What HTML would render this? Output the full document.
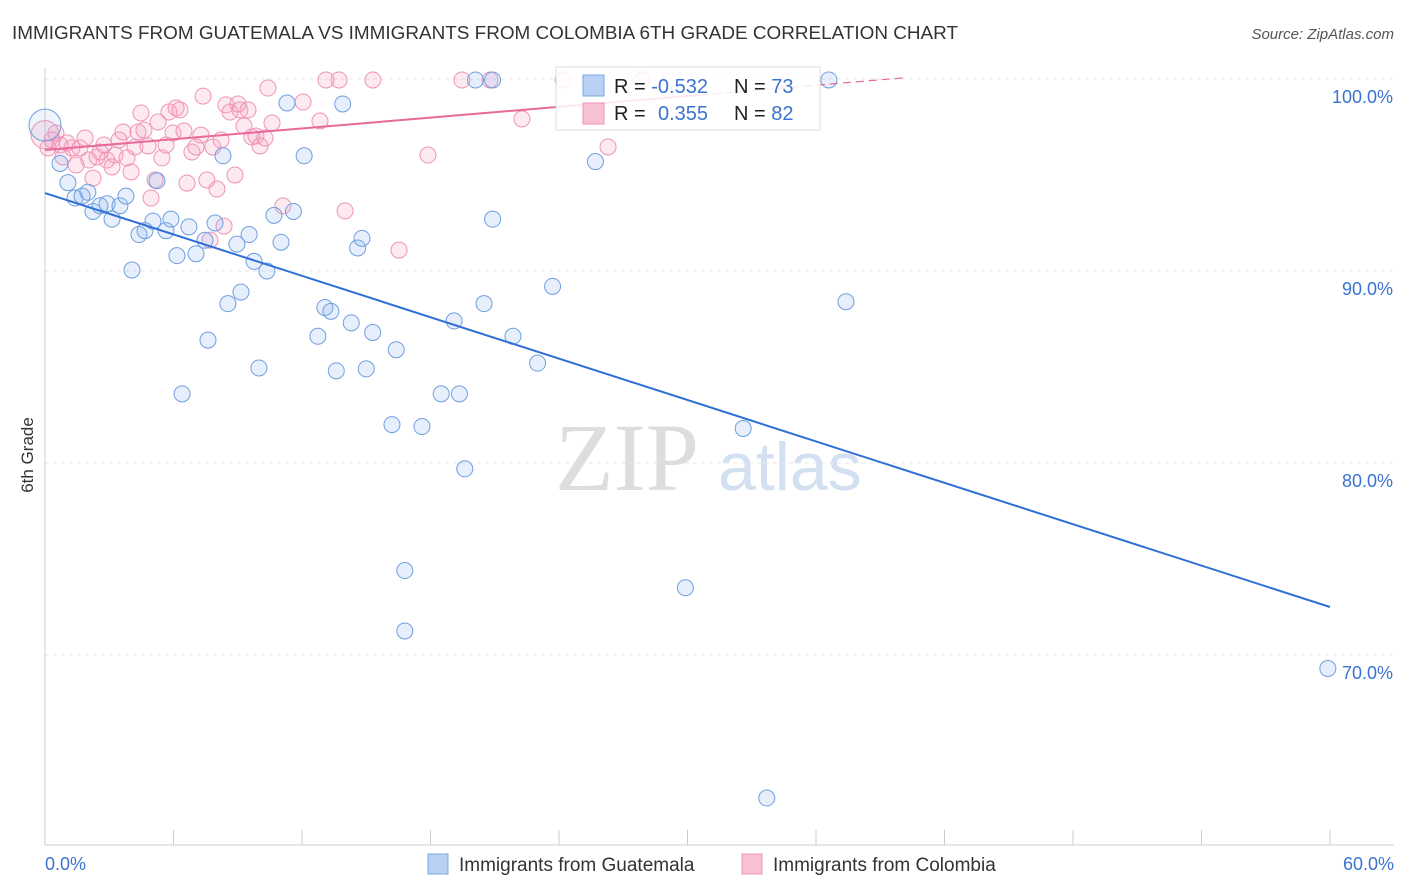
<!DOCTYPE html>
<html><head><meta charset="utf-8">
<style>
body{margin:0;background:#fff;font-family:"Liberation Sans",sans-serif;}
#wrap{position:relative;width:1406px;height:892px;overflow:hidden;}
</style></head>
<body>
<div id="wrap">
<svg id="chart" width="1406" height="892">
<text x="12" y="39" font-size="18" fill="#333" textLength="946" lengthAdjust="spacingAndGlyphs">IMMIGRANTS FROM GUATEMALA VS IMMIGRANTS FROM COLOMBIA 6TH GRADE CORRELATION CHART</text>
<text x="1394" y="39" font-size="15" fill="#555" font-style="italic" text-anchor="end">Source: ZipAtlas.com</text>
<text x="33" y="455" font-size="17" fill="#333" transform="rotate(-90 33 455)" text-anchor="middle">6th Grade</text>
<text x="555" y="490" font-size="96" fill="#ddd" font-family="Liberation Serif,serif">ZIP</text>
<text x="718" y="490" font-size="68" fill="#d3e0f2">atlas</text>
<g id="grid"></g><g id="marks"></g><g id="lines"></g>
<g>
<rect x="556" y="67" width="264" height="63" fill="rgba(255,255,255,0.85)" stroke="#ddd"/>
<rect x="583" y="75" width="21" height="21" fill="#b7d0f3" stroke="#7aa7e4"/>
<rect x="583" y="103" width="21" height="21" fill="#f9c2d4" stroke="#f093b4"/>
<text x="614" y="93" font-size="20" fill="#222">R = <tspan fill="#3b73d0">-0.532</tspan></text>
<text x="734" y="93" font-size="20" fill="#222">N = <tspan fill="#3b73d0">73</tspan></text>
<text x="614" y="120" font-size="20" fill="#222">R = <tspan fill="#3b73d0" x="658">0.355</tspan></text>
<text x="734" y="120" font-size="20" fill="#222">N = <tspan fill="#3b73d0">82</tspan></text>
</g>
<g>
<rect x="428" y="854" width="20" height="20" fill="#b7d0f3" stroke="#7aa7e4"/>
<text x="459" y="871" font-size="19" fill="#333">Immigrants from Guatemala</text>
<rect x="742" y="854" width="20" height="20" fill="#f9c2d4" stroke="#f093b4"/>
<text x="773" y="871" font-size="19" fill="#333">Immigrants from Colombia</text>
</g>
</svg>
</div>
<script>
const yTicks=[100,90,80,70];
const yTickLabels=["100.0%","90.0%","80.0%","70.0%"];
const xEndLabels=["0.0%","60.0%"];
const blueX=[0,0.7,1.07,1.4,1.73,2.0,2.24,2.57,2.9,3.13,3.5,3.78,4.06,4.39,4.67,5.04,5.23,5.65,5.88,6.16,6.4,6.72,7.05,7.47,7.61,7.94,8.31,8.54,8.96,9.15,9.53,9.76,9.99,10.36,10.69,11.02,11.3,11.6,12.1,12.74,13.07,13.35,13.6,13.9,14.3,14.6,14.8,15.0,15.3,16.2,16.4,16.8,16.8,17.6,18.5,19.1,19.35,19.6,20.1,20.5,20.9,20.9,21.85,23.0,23.7,25.7,29.9,32.6,33.7,36.6,37.4,59.9];
const blueY=[97.6,95.6,94.6,93.8,93.9,94.1,93.1,93.4,93.5,92.7,93.4,93.9,90.05,91.9,92.1,92.6,94.7,92.1,92.7,90.8,83.6,92.3,90.9,91.6,86.4,92.5,96.0,88.3,91.4,88.9,91.9,90.5,84.95,90.0,92.9,91.5,98.75,93.1,96.0,86.6,88.1,87.9,84.8,98.7,87.3,91.2,91.7,84.9,86.8,82.0,85.9,74.4,71.25,81.9,83.6,87.4,83.6,79.7,99.95,88.3,99.95,92.7,86.6,85.2,89.2,95.7,73.5,81.8,62.55,99.95,88.4,69.3];
const pinkX=[0,0.14,0.33,0.51,0.70,0.84,1.03,1.26,1.45,1.63,1.87,2.05,2.24,2.43,2.57,2.75,2.89,3.13,3.27,3.46,3.64,3.83,4.02,4.20,4.34,4.48,4.62,4.81,4.95,5.14,5.28,5.46,5.65,5.79,5.98,6.12,6.30,6.49,6.63,6.86,7.05,7.28,7.38,7.56,7.70,7.84,8.03,8.22,8.36,8.45,8.64,8.87,9.01,9.10,9.29,9.48,9.66,9.85,10.04,10.27,10.41,10.60,11.11,12.05,12.84,13.12,13.73,14.01,15.31,16.53,17.88,19.47,20.78,22.27,24.19,26.29,27.87];
const pinkY=[97.1,96.41,96.82,97.19,96.56,95.94,96.67,96.41,95.52,96.41,96.93,95.78,94.84,95.94,96.2,96.56,95.78,95.42,96.04,96.82,97.24,95.89,95.16,96.46,97.24,98.23,97.34,96.51,93.8,94.74,97.76,95.89,96.56,98.28,97.19,98.49,98.39,97.29,94.58,96.2,96.46,97.08,99.11,94.74,91.61,96.46,94.27,96.82,92.34,98.65,98.28,95.0,98.7,98.39,97.55,98.39,96.98,97.03,96.51,96.93,99.53,97.71,93.39,98.8,97.81,99.95,99.95,93.13,99.95,91.09,96.04,99.95,99.95,97.92,99.95,96.46,99.95];
const blueTrend=[94.06,72.5];   // y at x=0 and x=60
const pinkTrend=[96.3,0.0938];  // intercept, slope
const NS="http://www.w3.org/2000/svg";
const X=v=>45+v/60*1285, Y=v=>79+(100-v)*19.2;
function mk(tag,attrs,parent){const e=document.createElementNS(NS,tag);for(const k in attrs)e.setAttribute(k,attrs[k]);parent.appendChild(e);return e;}
const grid=document.getElementById('grid'),marks=document.getElementById('marks'),lines=document.getElementById('lines');
yTicks.forEach((t,i)=>{
  const l=mk('line',{x1:45,x2:1394,y1:Y(t),y2:Y(t),stroke:'#e4e4e4','stroke-dasharray':'4,4'},grid);
  
  
  const tx=mk('text',{x:1393,y:Y(t)+24,'font-size':18,fill:'#3b73d0','text-anchor':'end'},grid);
  tx.textContent=yTickLabels[i];
  
  
});
const ax=mk('line',{x1:45,x2:1394,y1:845,y2:845,stroke:'#ccc'},grid);


const ay=mk('line',{x1:45,x2:45,y1:68,y2:845,stroke:'#ccc'},grid);


for(let i=0;i<=10;i++){
  const t=mk('line',{x1:X(i*6),x2:X(i*6),y1:830,y2:845,stroke:'#ccc'},grid);
  
  
}
[[0,45,'start'],[1,1394,'end']].forEach(([i,x,a])=>{
  const t=mk('text',{x:x,y:870,'font-size':18,fill:'#3b73d0','text-anchor':a},grid);
  t.textContent=xEndLabels[i];
  
  
});
pinkX.forEach((x,i)=>{
  const c=mk('circle',{cx:X(x),cy:Y(pinkY[i]),r:i==0?14:8,fill:'rgba(245,160,190,0.22)',stroke:'#f093b4','stroke-width':1},marks);
  
  
});
blueX.forEach((x,i)=>{
  const c=mk('circle',{cx:X(x),cy:Y(blueY[i]),r:i==0?16:8,fill:i==0?'rgba(140,180,235,0.15)':'rgba(140,180,235,0.22)',stroke:'#6f9fe0','stroke-width':1},marks);
  
  
});
const bl=mk('line',{x1:X(0),y1:Y(blueTrend[0]),x2:X(60),y2:Y(blueTrend[1]),stroke:'#2f6fd6','stroke-width':2},lines);


const ps=mk('line',{x1:X(0),y1:Y(pinkTrend[0]),x2:X(30.6),y2:Y(pinkTrend[0]+pinkTrend[1]*30.6),stroke:'#e8699a','stroke-width':2},lines);


const pd=mk('line',{x1:X(30.6),y1:Y(pinkTrend[0]+pinkTrend[1]*30.6),x2:X(40.2),y2:Y(pinkTrend[0]+pinkTrend[1]*40.2),stroke:'#e8699a','stroke-width':1.2,'stroke-dasharray':'8,5'},lines);


</script>
</body></html>
